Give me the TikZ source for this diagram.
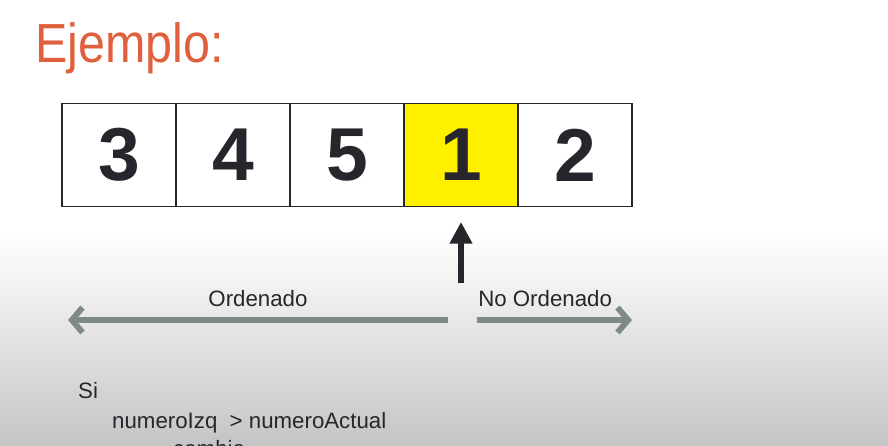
\documentclass[tikz,border=0pt]{standalone}
\usepackage{fontspec}
\setmainfont{Liberation Sans}
\usetikzlibrary{positioning,arrows.meta}

\definecolor{titulo}{HTML}{E0603E}
\definecolor{amarillo}{HTML}{FFF000}
\definecolor{flecha}{HTML}{7E8A84}
\definecolor{tinta}{HTML}{26262C}

\begin{document}
\begin{tikzpicture}[x=0.03cm,y=-0.03cm,
	celda/.style={draw=tinta,line width=1.6pt,minimum width=3.42cm,minimum height=3.09cm,inner sep=0pt,font=\fontsize{64}{64}\selectfont\bfseries,text=tinta},
	gris/.style={draw=flecha,line width=5pt,-{Straight Barb[length=3.2mm,width=7.5mm]}},
	texto/.style={font=\fontsize{19}{22}\selectfont,text=tinta,inner sep=0pt}]
			\clip (0,0) rectangle (888,446);
			%fondo
			\fill[white] (0,0) rectangle (888,235);
			\shade[top color=white,bottom color=black!23] (0,235) rectangle (888,446);

			%titulo
			\node [anchor=base west,inner sep=0pt,text=titulo,font=\fontsize{47}{50}\selectfont] (tit) at (35,62) {\scalebox{0.88}[1]{Ejemplo:}};

			%celdas
			\node [celda] (c1) at (119,155) {3};
			\node [celda] (c2) at (233,155) {4};
			\node [celda] (c3) at (347,155) {5};
			\node [celda,fill=amarillo] (c4) at (461,155) {1};
			\node [celda] (c5) at (575,155) {2};

			%flecha actual
			\coordinate (p0) at (461,283);
			\coordinate (p1) at (461,222);
			\draw[tinta,line width=4.5pt,-{Triangle[length=6.5mm,width=6.5mm]}] (p0) -- (p1);

			%flechas ordenado
			\coordinate (o0) at (448,320);
			\coordinate (o1) at (68,320);
			\coordinate (n0) at (477,320);
			\coordinate (n1) at (632,320);
			\draw[gris] (o0) -- node[texto,above=9pt] {Ordenado} (o1);
			\draw[gris] (n0) -- node[texto,above=9pt,xshift=-8] {No Ordenado} (n1);

			%pseudocodigo
			\node [texto,anchor=base west] (si) at (78,398) {Si};
			\node [texto,anchor=base west] (cond) at (112,428) {numeroIzq\ \ > numeroActual};
			\node [texto,anchor=base west] (camb) at (173,456) {cambio};
		\end{tikzpicture}
\end{document}
